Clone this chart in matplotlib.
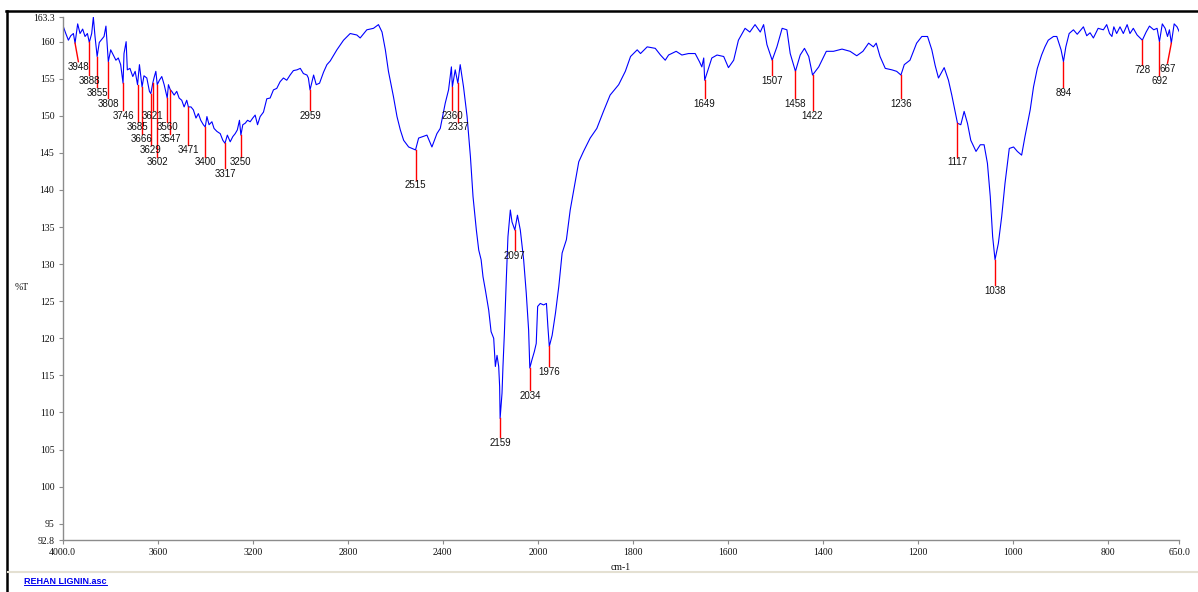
import numpy as np
import matplotlib.pyplot as plt
from matplotlib.lines import Line2D

plt.rcParams['font.family'] = ['Liberation Serif', 'DejaVu Serif']

# FTIR spectrum (wavenumber cm-1, %T)
wavenumber = [
    4000, 3997, 3987, 3976, 3966, 3955, 3948, 3937, 3927, 3916, 3906, 3896, 3888, 3878,
    3871, 3864, 3855, 3846, 3836, 3826, 3818, 3808, 3798, 3787, 3776, 3766, 3756, 3746,
    3742, 3733, 3728, 3717, 3705, 3695, 3685, 3677, 3666, 3658, 3646, 3635, 3629, 3621,
    3615, 3608, 3602, 3593, 3583, 3573, 3560, 3555, 3547, 3541, 3531, 3520, 3510, 3499,
    3489, 3478, 3471, 3460, 3450, 3439, 3429, 3419, 3408, 3400, 3393, 3384, 3372, 3363,
    3351, 3337, 3326, 3317, 3307, 3295, 3284, 3274, 3265, 3256, 3250, 3242, 3232, 3222,
    3211, 3200, 3190, 3180, 3169, 3155, 3141, 3127, 3113, 3099, 3085, 3071, 3057, 3043,
    3029, 3014, 3000, 2987, 2972, 2966, 2959, 2944, 2933, 2919, 2902, 2888, 2874, 2846,
    2818, 2790, 2762, 2748, 2720, 2692, 2671, 2656, 2642, 2629, 2608, 2593, 2579, 2565,
    2544, 2515, 2502, 2467, 2446, 2425, 2411, 2390, 2376, 2364, 2360, 2348, 2337, 2327,
    2313, 2298, 2284, 2273, 2259, 2249, 2239, 2231, 2221, 2207, 2197, 2186, 2179, 2172,
    2165, 2161, 2159, 2151, 2147, 2141, 2133, 2126, 2116, 2109, 2097, 2086, 2074, 2060,
    2049, 2039, 2034, 2025, 2015, 2007, 2001, 1995, 1988, 1982, 1979, 1976, 1970, 1963,
    1956, 1949, 1940, 1932, 1921, 1914, 1904, 1890, 1876, 1862, 1848, 1830, 1816, 1805,
    1791, 1784, 1770, 1753, 1742, 1732, 1725, 1709, 1697, 1683, 1669, 1660, 1655, 1651,
    1649, 1641, 1634, 1623, 1609, 1599, 1588, 1578, 1564, 1554, 1543, 1532, 1525, 1518,
    1507, 1497, 1486, 1476, 1469, 1458, 1448, 1439, 1430, 1422, 1409, 1393, 1378, 1360,
    1343, 1329, 1316, 1304, 1294, 1288, 1280, 1269, 1255, 1245, 1236, 1229, 1217, 1203,
    1192, 1180, 1171, 1164, 1157, 1145, 1136, 1129, 1124, 1117, 1110, 1103, 1096, 1089,
    1078, 1069, 1061, 1054, 1048, 1043, 1038, 1031, 1024, 1017, 1008, 999, 991, 982,
    975, 964, 957, 949, 940, 933, 926, 915, 908, 899, 894, 889, 882, 873,
    865, 852, 845, 838, 831, 821, 810, 803, 797, 792, 788, 782, 775, 768,
    760, 754, 747, 739, 728, 720, 713, 704, 697, 692, 686, 680, 675, 671,
    667, 661, 655, 650,
]
transmittance = [
    161.8, 162.0, 161.1, 160.2, 160.8, 161.1, 159.8, 162.4, 161.1, 161.7, 160.7, 161.1, 159.9, 161.1,
    163.3, 160.7, 158.0, 159.9, 160.3, 160.7, 162.1, 157.3, 158.9, 158.2, 157.5, 157.8, 156.9, 154.4,
    158.4, 160.0, 156.2, 156.4, 155.3, 156.0, 154.2, 156.9, 153.9, 155.4, 155.1, 153.3, 153.0, 154.4,
    155.2, 156.0, 154.2, 154.8, 155.3, 154.2, 152.4, 154.2, 153.5, 153.3, 152.8, 153.3, 152.4, 152.1,
    151.2, 152.1, 151.2, 151.2, 150.8, 149.7, 150.3, 149.4, 148.8, 148.5, 149.9, 148.8, 149.2, 148.3,
    147.9, 147.6, 146.7, 146.3, 147.4, 146.5, 147.2, 147.6, 148.1, 149.4, 147.4, 148.8, 149.0, 149.4,
    149.2, 149.7, 150.1, 148.8, 149.9, 150.5, 152.3, 152.4, 153.5, 153.7, 154.6, 155.1, 154.8, 155.5,
    156.1, 156.2, 156.4, 155.7, 155.5, 155.1, 153.5, 155.5, 154.2, 154.4, 155.9, 156.9, 157.4, 158.9,
    160.2, 161.1, 160.9, 160.5, 161.6, 161.8, 162.3, 161.3, 158.9, 156.0, 152.6, 149.9, 148.1, 146.7,
    145.8, 145.4, 147.0, 147.4, 145.8, 147.6, 148.3, 151.7, 153.5, 156.6, 153.9, 156.2, 154.4, 156.9,
    153.9, 149.9, 144.5, 139.1, 134.6, 131.9, 130.6, 128.3, 126.5, 123.8, 120.9, 120.0, 116.2, 117.7,
    116.2, 113.5, 109.2, 112.6, 116.2, 120.7, 127.9, 133.7, 137.3, 135.7, 134.6, 136.6, 134.6, 130.6,
    126.1, 121.1, 116.0, 117.1, 118.2, 119.3, 124.3, 124.7, 124.5, 124.7, 121.6, 118.9, 120.4, 123.4,
    127.0, 131.5, 133.3, 137.3, 141.3, 143.8, 145.2, 147.0, 148.3, 150.6, 152.8, 154.2, 156.0, 158.0,
    158.9, 158.4, 159.3, 159.1, 158.2, 157.5, 158.2, 158.7, 158.2, 158.4, 158.4, 157.3, 156.6, 157.8,
    154.8, 156.4, 157.8, 158.2, 158.0, 156.5, 157.5, 160.2, 161.8, 161.3, 162.3, 161.3, 162.3, 159.6,
    157.5, 159.3, 161.8, 161.6, 158.4, 156.0, 158.2, 159.1, 158.0, 155.5, 156.6, 158.7, 158.7, 159.0,
    158.7, 158.1, 158.7, 159.8, 159.3, 159.8, 158.0, 156.4, 156.2, 156.0, 155.5, 156.9, 157.5, 159.8,
    160.7, 160.7, 158.9, 156.8, 155.1, 156.5, 154.8, 152.8, 151.2, 149.0, 148.8, 150.6, 149.0, 146.7,
    145.2, 146.1, 146.1, 143.6, 139.1, 133.7, 130.6, 132.8, 136.4, 140.9, 145.6, 145.8, 145.2, 144.7,
    147.2, 150.8, 153.9, 156.4, 158.2, 159.3, 160.2, 160.7, 160.7, 158.9, 157.3, 159.3, 161.1, 161.6,
    161.0, 162.0, 160.8, 161.2, 160.5, 161.8, 161.6, 162.3, 161.1, 160.7, 162.0, 161.1, 162.0, 161.1,
    162.3, 161.1, 161.8, 160.9, 160.2, 161.3, 162.1, 161.6, 161.8, 160.0, 162.4, 161.8, 160.7, 161.6,
    159.8, 162.4, 162.0, 161.3,
]

# picked peaks
peaks = [3948, 3888, 3855, 3808, 3746, 3685, 3666, 3629, 3621, 3602, 3560, 3547, 3471, 3400,
         3317, 3250, 2959, 2515, 2360, 2337, 2159, 2097, 2034, 1976, 1649, 1507, 1458, 1422,
         1236, 1117, 1038, 894, 728, 692, 667]
# where each peak's marker line ends (staggered label rows)
peak_label_y = [157.3, 155.5, 153.9, 152.4, 150.8, 149.2, 147.6, 146.1, 150.8, 144.5, 149.2, 147.6,
                146.1, 144.5, 142.9, 144.5, 150.8, 141.4, 150.8, 149.2, 106.7, 131.9, 113.0, 116.2,
                152.4, 155.5, 152.4, 150.8, 152.4, 144.5, 127.2, 153.9, 156.9, 155.5, 157.1]
peak_label_x = {3948: 3934, 667: 675}

yticks = [92.8, 95, 100, 105, 110, 115, 120, 125, 130, 135, 140, 145, 150, 155, 160, 163.3]
ytick_labels = ['92.8', '95', '100', '105', '110', '115', '120', '125', '130', '135',
                '140', '145', '150', '155', '160', '163.3']
xticks = [4000, 3600, 3200, 2800, 2400, 2000, 1800, 1600, 1400, 1200, 1000, 800, 650]
xtick_labels = ['4000.0', '3600', '3200', '2800', '2400', '2000', '1800', '1600', '1400',
                '1200', '1000', '800', '650.0']


def forward(x):
    # scale doubles below 2000 cm-1
    x = np.asarray(x, dtype=float)
    return np.where(x >= 2000, x, 2 * x - 2000)


def inverse(t):
    t = np.asarray(t, dtype=float)
    return np.where(t >= 2000, t, (t + 2000) / 2)


W, H = 1198, 592
fig = plt.figure(figsize=(W / 100, H / 100), dpi=100)
ax = fig.add_axes([62.7 / W, 1 - 540 / H, (1179.4 - 62.7) / W, (540 - 17.2) / H])
ax.set_xscale('function', functions=(forward, inverse))

wn = np.array(wavenumber, dtype=float)
tr = np.array(transmittance, dtype=float)
ax.plot(wn, tr, color='#0000ff', lw=0.8)

for p, ybot in zip(peaks, peak_label_y):
    top = np.interp(p, wn[::-1], tr[::-1])
    lx = peak_label_x.get(p, p)
    ax.plot([p, lx], [top, ybot], color='#ff0000', lw=1.0)
    ax.annotate(str(p), (lx, ybot), xytext=(0, -0.5), textcoords='offset points',
                ha='center', va='top', fontsize=7, family='Liberation Sans', color='#111111')

ax.set_xlim(4000, 650)
ax.set_ylim(92.8, 163.3)
ax.set_xticks(xticks, xtick_labels)
ax.set_yticks(yticks, ytick_labels)
ax.minorticks_off()

for side in ['top', 'right']:
    ax.spines[side].set_visible(False)
for side in ['left', 'bottom']:
    ax.spines[side].set_color('#8c8c8c')
    ax.spines[side].set_linewidth(1.0)
ax.tick_params(axis='both', length=3, width=0.8, color='#8c8c8c', labelsize=7, pad=3,
               labelcolor='#111111')

fig.text(22 / W, 1 - 288 / H, '%T', fontsize=7, ha='center', va='center', color='#111111')
fig.text(621 / W, 1 - 567 / H, 'cm-1', fontsize=7, ha='center', va='center', color='#111111')

# window frame and footer
fig.add_artist(Line2D([6 / W, 1], [1 - 11 / H, 1 - 11 / H], color='black', lw=1.8))
fig.add_artist(Line2D([7 / W, 7 / W], [0, 1 - 11 / H], color='black', lw=1.8))
fig.add_artist(Line2D([8 / W, 1], [1 - 572 / H, 1 - 572 / H], color='#e4e0d2', lw=1.5))

name = fig.text(24 / W, 1 - 581 / H, 'REHAN LIGNIN.asc', fontsize=6.5, fontweight='bold',
                family='Liberation Sans', color='#0000ee', va='center', ha='left')
fig.canvas.draw()
bb = name.get_window_extent()
fig.add_artist(Line2D([bb.x0 / W, bb.x1 / W], [(bb.y0 + 0.5) / H, (bb.y0 + 0.5) / H],
                      color='#0000ee', lw=0.7))

fig.savefig('out.png', dpi=100)
